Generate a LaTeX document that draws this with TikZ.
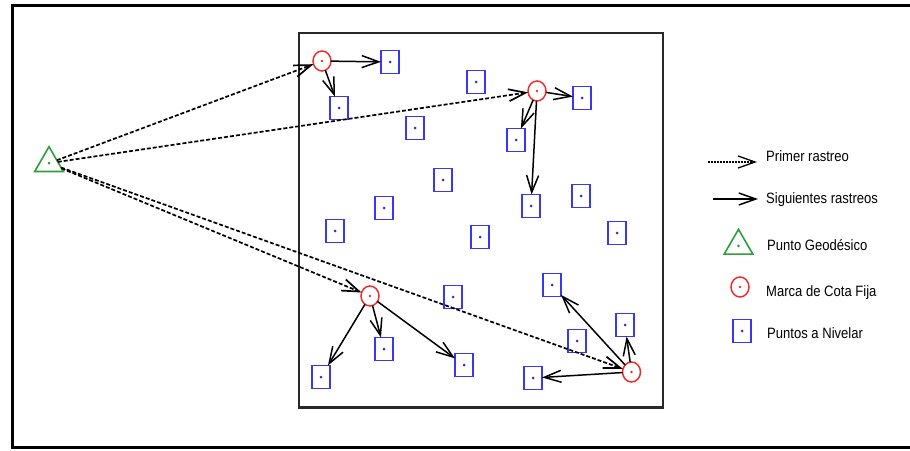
\documentclass[tikz,border=0pt]{standalone}
\usepackage{fontspec}
\usepackage{graphicx}
\setmainfont{Liberation Sans}
\usetikzlibrary{arrows.meta,shapes.geometric}
\definecolor{ptblue}{RGB}{55,55,245}
\definecolor{ptred}{RGB}{240,45,45}
\definecolor{ptgreen}{RGB}{45,160,55}
\definecolor{framegray}{RGB}{40,40,40}
\tikzset{
  nivel/.style={rectangle, draw=ptblue, line width=1.6pt, minimum width=18pt, minimum height=23pt,
    inner sep=0pt, outer sep=0pt,
    path picture={\fill[ptblue!85!black] (path picture bounding box.center) circle (1.5pt);}},
  cota/.style={ellipse, draw=ptred, line width=1.5pt, minimum width=18pt, minimum height=20pt,
    inner sep=0pt, outer sep=0pt,
    path picture={\fill[ptred] (path picture bounding box.center) circle (1.4pt);}},
  geo/.style={regular polygon, regular polygon sides=3, draw=ptgreen, line width=1.6pt,
    minimum size=33pt, inner sep=0pt, outer sep=0pt},
  geodot/.style={fill=ptgreen},
  tip/.style={-{Straight Barb[length=17pt,width=12pt]}},
  primer/.style={tip, line width=1.7pt, dash pattern=on 4pt off 2pt},
  sig/.style={tip, line width=1.5pt},
  leyenda/.style={anchor=base west, inner sep=0pt, font=\fontsize{15}{18}\selectfont},
}
\newcommand{\ley}[1]{\scalebox{0.87}[1]{#1}}
\begin{document}
\begin{tikzpicture}[x=1pt,y=-1pt]
\useasboundingbox (0,0) rectangle (910,450);
% outer frame (right side beyond the picture)
\draw[line width=3pt, line join=miter] (912,5.5) -- (12.5,5.5) -- (12.5,447.5) -- (912,447.5);
% inner area
\draw[framegray, line width=2.2pt] (299,33) rectangle (663,407.5);

% geodetic point
\node[geo] (t) at (49,163.2) {};
\fill[geodot] (t.center) circle (1.5pt);

% bench marks
\node[cota] (m1) at (322,61) {};
\node[cota] (m2) at (537,91) {};
\node[cota] (m3) at (370,296) {};
\node[cota] (m4) at (631.5,372) {};

% points to level
\node[nivel] (s1) at (390,62) {};
\node[nivel] (s2) at (339,108) {};
\node[nivel] (s3) at (476,82) {};
\node[nivel] (s4) at (582,98) {};
\node[nivel] (s5) at (415,128) {};
\node[nivel] (s6) at (516,140) {};
\node[nivel] (s7) at (443,180) {};
\node[nivel] (s8) at (581,196) {};
\node[nivel] (s9) at (531,206) {};
\node[nivel] (s10) at (384,208) {};
\node[nivel] (s11) at (335,231) {};
\node[nivel] (s12) at (480,237) {};
\node[nivel] (s13) at (617,233) {};
\node[nivel] (s14) at (453,297) {};
\node[nivel] (s15) at (552,285) {};
\node[nivel] (s16) at (625,325) {};
\node[nivel] (s17) at (577,341) {};
\node[nivel] (s18) at (384,349) {};
\node[nivel] (s19) at (464,365) {};
\node[nivel] (s20) at (321,377) {};
\node[nivel] (s21) at (533,378) {};

% first survey
\draw[primer] (t) -- (m1);
\draw[primer] (t) -- (m2);
\draw[primer] (t) -- (m3);
\draw[primer] (t) -- (m4);

% following surveys
\draw[sig] (m1) -- (s1);
\draw[sig] (m1) -- (s2);
\draw[sig] (m2) -- (s4);
\draw[sig] (m2) -- (s6);
\draw[sig] (m2) -- (s9);
\draw[sig] (m3) -- (s20);
\draw[sig] (m3) -- (s18);
\draw[sig] (m3) -- (s19);
\draw[sig] (m4) -- (s15);
\draw[sig] (m4) -- (s16);
\draw[sig] (m4) -- (s21);

% legend
\coordinate (la) at (708,162);
\coordinate (lb) at (757,162);
\draw[primer, line width=1.3pt, dash pattern=on 2pt off 1pt] (la) -- (lb);
\node[leyenda] (l1) at (766,161.5) {\ley{Primer rastreo}};

\coordinate (lc) at (713,199);
\coordinate (ld) at (758,199);
\draw[sig] (lc) -- (ld);
\node[leyenda] (l2) at (766,203) {\ley{Siguientes rastreos}};

\node[geo] (lt) at (738.5,245.8) {};
\fill[geodot] (lt.center) circle (1.5pt);
\node[leyenda] (l3) at (767,250.5) {\ley{Punto Geodésico}};

\node[cota] (lm) at (740,287) {};
\node[leyenda] (l4) at (766,296) {\ley{Marca de Cota Fija}};

\node[nivel] (ls) at (742,331) {};
\node[leyenda] (l5) at (767,338) {\ley{Puntos a Nivelar}};
\end{tikzpicture}
\end{document}
